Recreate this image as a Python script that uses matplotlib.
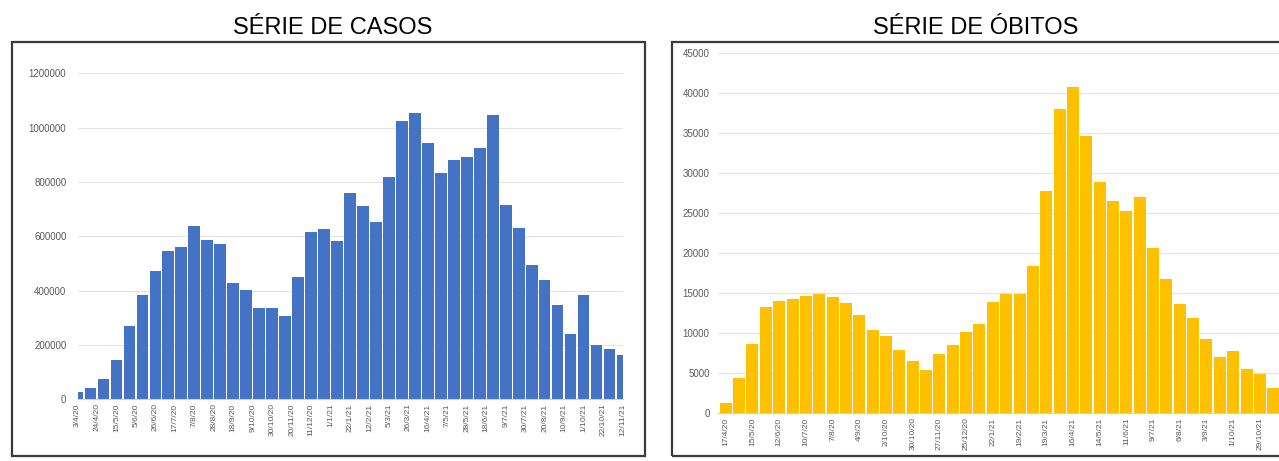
#Bibliotecas
import numpy as np
import matplotlib.pyplot as plt
from matplotlib.patches import Rectangle

#Dados - casos por quinzena (a partir de 3/4/20)
casos = [28000, 43000, 76000, 145000, 270000, 383000, 471000, 547000, 560000, 638000,
         588000, 570000, 429000, 402000, 335000, 337000, 308000, 450000, 616000, 626000,
         584000, 761000, 713000, 654000, 817000, 1026000, 1055000, 942000, 834000, 881000,
         892000, 924000, 1047000, 715000, 629000, 494000, 439000, 346000, 240000, 384000,
         200000, 184000, 163000]
rotulos_casos = ['3/4/20', '24/4/20', '15/5/20', '5/6/20', '26/6/20', '17/7/20', '7/8/20',
                 '28/8/20', '18/9/20', '9/10/20', '30/10/20', '20/11/20', '11/12/20', '1/1/21',
                 '22/1/21', '12/2/21', '5/3/21', '26/3/21', '16/4/21', '7/5/21', '28/5/21',
                 '18/6/21', '9/7/21', '30/7/21', '20/8/21', '10/9/21', '1/10/21', '22/10/21',
                 '12/11/21']

#Dados - obitos por quinzena (a partir de 17/4/20)
obitos = [1250, 4460, 8670, 13250, 14080, 14330, 14670, 14920, 14580, 13830,
          12290, 10420, 9710, 7920, 6500, 5420, 7375, 8540, 10125, 11125,
          13920, 14920, 14920, 18420, 27790, 38040, 40830, 34710, 28960, 26540,
          25330, 27080, 20710, 16830, 13625, 11875, 9290, 7000, 7830, 5540,
          4920, 3125]
rotulos_obitos = ['17/4/20', '15/5/20', '12/6/20', '10/7/20', '7/8/20', '4/9/20', '2/10/20',
                  '30/10/20', '27/11/20', '25/12/20', '22/1/21', '19/2/21', '19/3/21', '16/4/21',
                  '14/5/21', '11/6/21', '9/7/21', '6/8/21', '3/9/21', '1/10/21', '29/10/21']

plt.rcParams['font.family'] = ['Liberation Sans', 'DejaVu Sans']

W, H = 1279, 461
fig = plt.figure(figsize=(W / 100, H / 100), dpi=100)

def px(x0, y0, x1, y1):
    # caixa em pixels (a partir do topo) -> fracao da figura
    return [x0 / W, 1 - y1 / H, (x1 - x0) / W, (y1 - y0) / H]

#Molduras
fig.add_artist(Rectangle((12 / W, 5 / H), (645 - 12) / W, (456 - 42) / H,
                         transform=fig.transFigure, fill=False, ec='#3a3a3a', lw=1.6))
fig.add_artist(Rectangle((672 / W, 5 / H), (1320 - 672) / W, (456 - 42) / H,
                         transform=fig.transFigure, fill=False, ec='#3a3a3a', lw=1.6,
                         clip_on=False))

fig.text(333 / W, 1 - 28.5 / H, 'SÉRIE DE CASOS', ha='center', va='center', fontsize=17)
fig.text(976 / W, 1 - 28.5 / H, 'SÉRIE DE ÓBITOS', ha='center', va='center', fontsize=17)

def estilo(ax, ypad):
    ax.set_axisbelow(True)
    ax.grid(axis='y', color='#e3e3e3', lw=0.8)
    for s in ['top', 'right', 'left']:
        ax.spines[s].set_visible(False)
    ax.spines['bottom'].set_color('#d0d0d0')
    ax.ticklabel_format(axis='y', style='plain', useOffset=False)
    ax.tick_params(axis='y', length=0, labelsize=7, labelcolor='#595959', pad=ypad)
    ax.tick_params(axis='x', length=0, labelsize=6, labelcolor='#595959', pad=3)

#Grafico de casos
ax1 = fig.add_axes(px(77.5, 73.3, 622.5, 399.3))
x1 = np.arange(len(casos))
ax1.bar(x1, casos, width=0.9, color='#4472C4')
ax1.set_xlim(0, len(casos) - 1)
ax1.set_ylim(0, 1200000)
ax1.set_yticks(np.arange(0, 1200001, 200000))
ax1.set_xticks(np.arange(len(rotulos_casos)) * 1.5)
ax1.set_xticklabels(rotulos_casos, rotation=90)
estilo(ax1, 8)

#Grafico de obitos
ax2 = fig.add_axes(px(718, 53.3, 1281, 413.3))
x2 = np.arange(len(obitos))
ax2.bar(x2, obitos, width=0.9, color='#FFC000')
ax2.set_xlim(-0.58, len(obitos) - 0.42)
ax2.set_ylim(0, 45000)
ax2.set_yticks(np.arange(0, 45001, 5000))
ax2.set_xticks(np.arange(len(rotulos_obitos)) * 2)
ax2.set_xticklabels(rotulos_obitos, rotation=90)
estilo(ax2, 6)

fig.savefig('out.png', dpi=100)
